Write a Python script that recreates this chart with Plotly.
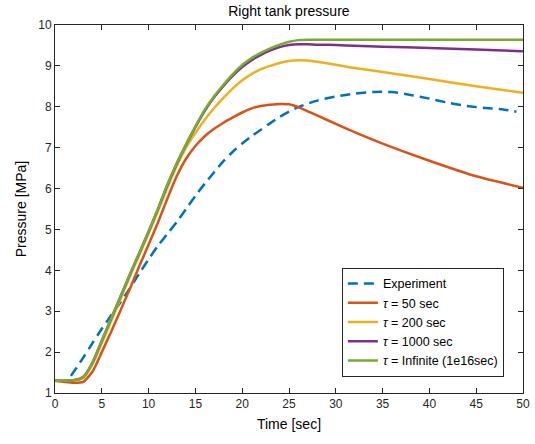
import plotly.graph_objects as go

# ---- data ----
t_sim = [0, 1, 2, 3, 4, 5, 6, 7, 8, 9, 10, 11, 12, 13, 14, 15, 16, 17, 18, 19, 20,
         21, 22, 23, 24, 25, 26, 27, 28, 30, 32, 35, 40, 45, 50]

p_tau50 = [1.30, 1.27, 1.25, 1.27, 1.52, 2.00, 2.50, 3.02, 3.55, 4.10, 4.63, 5.17, 5.75, 6.30,
           6.73, 7.04, 7.28, 7.46, 7.61, 7.74, 7.86, 7.96, 8.02, 8.05, 8.07, 8.06, 7.99, 7.89,
           7.79, 7.58, 7.38, 7.10, 6.68, 6.30, 6.02]

p_tau200 = [1.30, 1.30, 1.30, 1.36, 1.70, 2.22, 2.76, 3.30, 3.85, 4.37, 4.90, 5.45, 6.02, 6.55,
            7.00, 7.36, 7.68, 7.97, 8.22, 8.45, 8.65, 8.80, 8.92, 9.00, 9.07, 9.12, 9.14, 9.13,
            9.10, 9.03, 8.95, 8.85, 8.68, 8.50, 8.34]

p_tau1000 = [1.30, 1.30, 1.31, 1.39, 1.74, 2.28, 2.82, 3.36, 3.90, 4.42, 4.95, 5.50, 6.08, 6.60,
             7.07, 7.50, 7.90, 8.23, 8.51, 8.76, 8.97, 9.14, 9.27, 9.38, 9.46, 9.51, 9.53, 9.53,
             9.52, 9.51, 9.49, 9.47, 9.44, 9.40, 9.36]

p_tauinf = [1.30, 1.30, 1.31, 1.39, 1.74, 2.28, 2.82, 3.36, 3.90, 4.42, 4.95, 5.50, 6.10, 6.62,
            7.08, 7.52, 7.93, 8.26, 8.54, 8.80, 9.02, 9.19, 9.32, 9.43, 9.52, 9.59, 9.63, 9.64,
            9.64, 9.64, 9.64, 9.64, 9.64, 9.64, 9.64]

t_exp = [1.7, 3, 4, 5, 6, 7, 8, 9, 10, 11, 12, 13, 14, 15, 16, 17, 18, 19, 20, 21, 22, 23, 24,
         25, 26, 28, 30, 32, 34, 36, 38, 40, 42, 44, 46, 48, 49.3]
p_exp = [1.42, 1.86, 2.22, 2.57, 2.90, 3.22, 3.56, 3.92, 4.27, 4.60, 4.89, 5.18, 5.50, 5.82,
         6.12, 6.40, 6.67, 6.90, 7.10, 7.28, 7.44, 7.60, 7.75, 7.88, 7.99, 8.15, 8.25, 8.32,
         8.36, 8.36, 8.29, 8.20, 8.10, 8.02, 7.97, 7.93, 7.88]

x_ticks = [0, 5, 10, 15, 20, 25, 30, 35, 40, 45, 50]
y_ticks = [1, 2, 3, 4, 5, 6, 7, 8, 9, 10]

names = ["Experiment", "<i>τ</i> = 50 sec", "<i>τ</i> = 200 sec",
         "<i>τ</i> = 1000 sec", "<i>τ</i> = Infinite (1e16sec)"]
colors = ["#0072BD", "#D95319", "#EDB120", "#7E2F8E", "#77AC30"]

fig = go.Figure()
fig.add_trace(go.Scatter(x=t_exp, y=p_exp, mode="lines", name=names[0],
                         line=dict(color=colors[0], width=2.5, dash="10px,6px",
                                   shape="spline", smoothing=0.8)))
for name, col, ys in zip(names[1:], colors[1:], [p_tau50, p_tau200, p_tau1000, p_tauinf]):
    fig.add_trace(go.Scatter(x=t_sim, y=ys, mode="lines", name=name,
                             line=dict(color=col, width=2.5, shape="spline", smoothing=0.6)))

axis_common = dict(showgrid=False, zeroline=False, showline=True, linecolor="#262626",
                   linewidth=1, mirror="allticks", ticks="inside", ticklen=5,
                   tickcolor="#262626", tickfont=dict(size=12, color="#262626"),
                   automargin=False)

fig.update_layout(
    width=535, height=444,
    margin=dict(l=55, r=12, t=25, b=51),
    paper_bgcolor="white", plot_bgcolor="white",
    font=dict(family="Liberation Sans, Arial, sans-serif", color="#262626"),
    title=dict(text="Right tank pressure", x=0.54, xanchor="center", y=0.985, yanchor="top",
               font=dict(size=14, color="black")),
    xaxis=dict(range=[0, 50], tickvals=x_ticks,
               title=dict(text="Time [sec]", font=dict(size=14, color="black"), standoff=8),
               **axis_common),
    yaxis=dict(range=[1, 10], tickvals=y_ticks,
               title=dict(text="Pressure [MPa]", font=dict(size=14, color="black"), standoff=8),
               **axis_common),
    legend=dict(x=0.613, y=0.34, xanchor="left", yanchor="top", bgcolor="white",
                bordercolor="#262626", borderwidth=1, font=dict(size=12.5, color="black"),
                tracegroupgap=0, itemwidth=30),
    showlegend=True,
)

fig.write_html("out.html", config={"displayModeBar": False},
               post_script="document.body.style.margin='0';")
